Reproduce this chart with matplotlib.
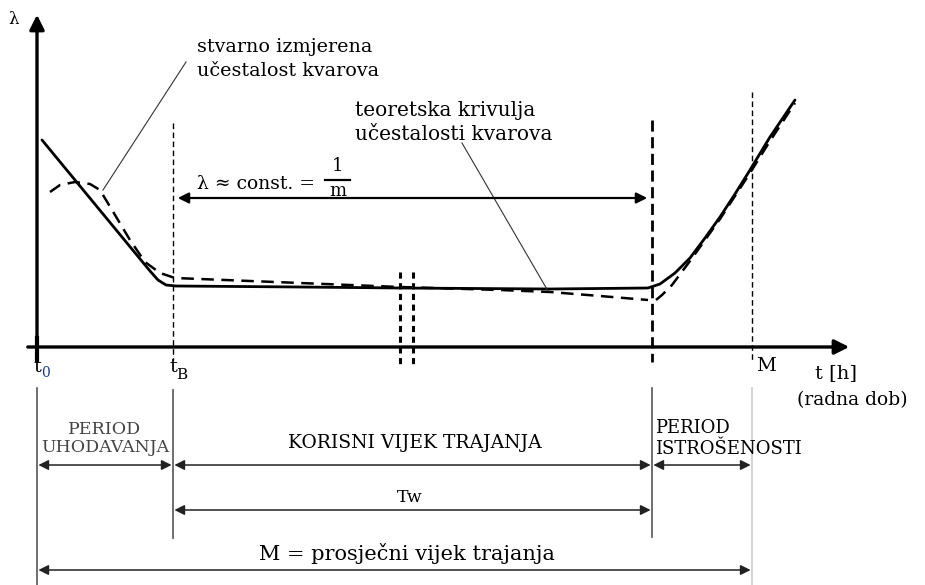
import matplotlib
matplotlib.use("Agg")
import matplotlib.pyplot as plt

plt.rcParams['font.family'] = ['DejaVu Serif', 'Liberation Serif']

# theoretical failure-rate curve (bathtub), drawing units
solid_x = [42, 150, 158, 166, 176, 300, 400, 550, 648, 660, 675, 690, 705, 720, 735, 750, 770, 795]
solid_y = [140, 271, 280, 285, 286, 287, 288, 289, 288, 284, 273, 258, 238, 217, 194, 170, 137, 100]

# measured failure rate (dashed)
meas_x = [50, 60, 75, 90, 100, 115, 130, 145, 160, 175, 300, 400, 500, 550, 600, 648]
meas_y = [192, 185, 182, 184, 190, 215, 240, 262, 273, 278, 283, 287, 290, 292, 296, 300]
wear_x = [656, 662, 672, 690, 705, 720, 750, 770, 795]
wear_y = [300, 295, 285, 261, 240, 219, 173, 141, 103]

# key instants on the time axis
t0, tB, tE, tM = 37, 173, 652, 752
axis_y = 347

fig = plt.figure(figsize=(9.25, 5.85), dpi=100)
ax = fig.add_axes([0, 0, 1, 1])
ax.set_xlim(0, 925)
ax.set_ylim(585, 0)
ax.axis("off")

# axes with arrows
ax.annotate("", xy=(t0, 12), xytext=(t0, 360),
            arrowprops=dict(arrowstyle="-|>", lw=2.4, color="black", mutation_scale=22))
ax.annotate("", xy=(852, axis_y), xytext=(25, axis_y),
            arrowprops=dict(arrowstyle="-|>", lw=2.4, color="black", mutation_scale=22))

# curves
ax.plot(solid_x, solid_y, color="black", lw=2.0, solid_capstyle="round")
ax.plot(meas_x, meas_y, color="black", lw=1.8, dashes=(5, 3))
ax.plot(wear_x, wear_y, color="black", lw=1.8, dashes=(5, 3))

# vertical guides
ax.plot([tB, tB], [123, 360], color="black", lw=1.0, dashes=(4, 2.5))
ax.plot([tE, tE], [120, 362], color="black", lw=2.0, dashes=(4, 2))
ax.plot([tM, tM], [92, 362], color="black", lw=1.0, dashes=(4, 2.5))
ax.plot([t0, t0], [338, 360], color="black", lw=3)
for xb in (400, 413):
    ax.plot([xb, xb], [272, 364], color="black", lw=2.2, dashes=(2, 1.5))

# lambda constant arrow
ax.annotate("", xy=(tB + 2, 198), xytext=(tE - 2, 198),
            arrowprops=dict(arrowstyle="<|-|>", lw=1.6, color="black", mutation_scale=16))
ax.text(197, 184, "λ ≈ const. =", fontsize=13.5, va="center", ha="left")
ax.text(338, 166, "1", fontsize=13, va="center", ha="center")
ax.plot([325, 350], [180, 180], color="black", lw=1.6)
ax.text(338, 191, "m", fontsize=13, va="center", ha="center")

# labels
ax.text(14, 20, "λ", fontsize=12, va="center", ha="center")
ax.text(197, 47, "stvarno izmjerena", fontsize=13.8, va="center", ha="left")
ax.text(197, 71, "učestalost kvarova", fontsize=13.8, va="center", ha="left")
ax.plot([186, 103], [62, 190], color="#333333", lw=0.8)
ax.text(355, 111, "teoretska krivulja", fontsize=14.5, va="center", ha="left")
ax.text(355, 135, "učestalosti kvarova", fontsize=14.5, va="center", ha="left")
ax.plot([462, 548], [143, 291], color="#333333", lw=0.8)

ax.text(t0, 367, "t", fontsize=14, va="center", ha="center")
ax.text(t0 + 8, 373, "0", fontsize=10, va="center", ha="center", color="#1a3a8a")
ax.text(tB, 367, "t", fontsize=14, va="center", ha="center")
ax.text(tB + 9, 375, "B", fontsize=11, va="center", ha="center")
ax.text(tM + 4, 366, "M", fontsize=14, va="center", ha="left")
ax.text(815, 373, "t [h]", fontsize=14, va="center", ha="left")
ax.text(797, 400, "(radna dob)", fontsize=13.5, va="center", ha="left")

# lower period diagram
ax.plot([t0, t0], [388, 585], color="#555555", lw=1.2)
ax.plot([tB, tB], [390, 538], color="#555555", lw=1.2)
ax.plot([tE, tE], [388, 537], color="#555555", lw=1.2)
ax.plot([tM, tM], [388, 585], color="#cccccc", lw=1.2)

def dim(x1, x2, y, style="<|-|>"):
    ax.annotate("", xy=(x2, y), xytext=(x1, y),
                arrowprops=dict(arrowstyle=style, lw=1.1, color="#222222",
                                mutation_scale=15, shrinkA=1, shrinkB=1))

dim(t0, tB, 465)
dim(tB, tE, 465)
dim(tE, tM, 465)
dim(tB, tE, 510)
dim(t0, tM, 570)

ax.text(105, 430, "PERIOD", fontsize=12.5, va="center", ha="center", color="#444444")
ax.text(105, 448, "UHODAVANJA", fontsize=12.5, va="center", ha="center", color="#444444")
ax.text(415, 443, "KORISNI VIJEK TRAJANJA", fontsize=13.5, va="center", ha="center")
ax.text(655, 428, "PERIOD", fontsize=13, va="center", ha="left")
ax.text(655, 449, "ISTROŠENOSTI", fontsize=13, va="center", ha="left")
ax.text(410, 497, "Tw", fontsize=12.5, va="center", ha="center")
ax.text(407, 553, "M = prosječni vijek trajanja", fontsize=15, va="center", ha="center")

fig.savefig("out.png", dpi=100)
